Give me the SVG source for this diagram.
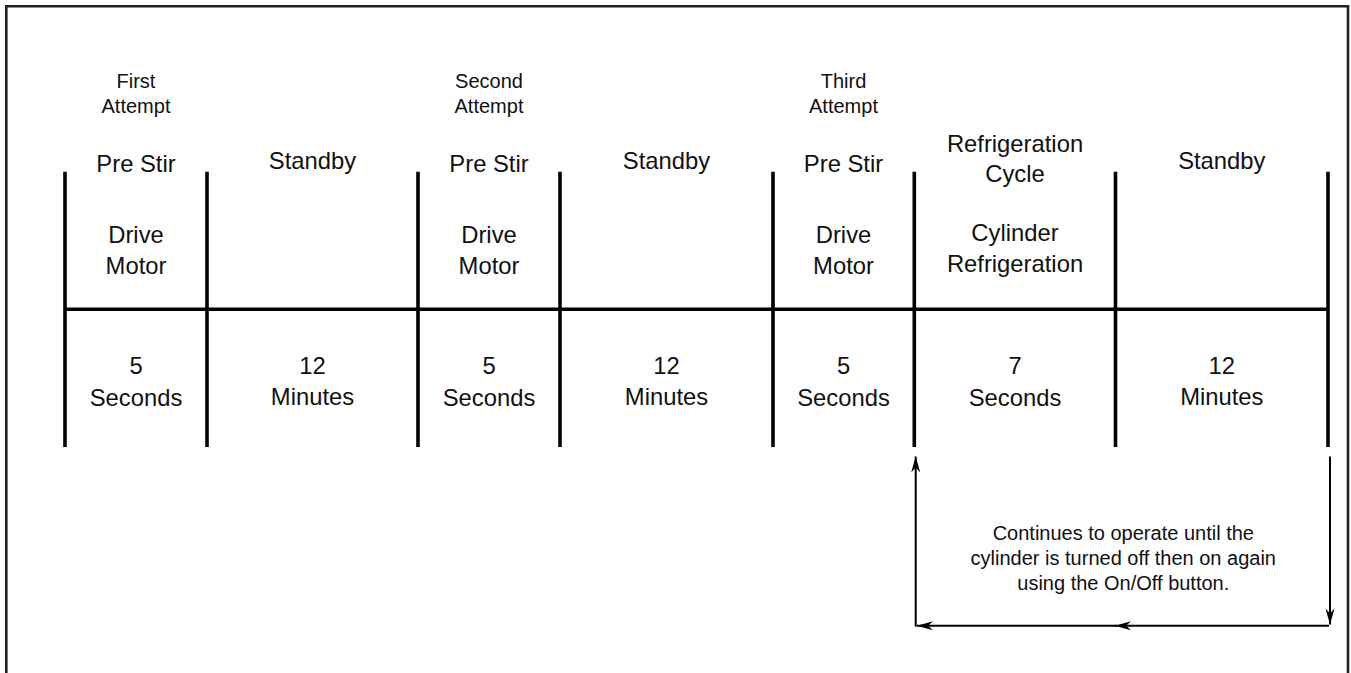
<svg xmlns="http://www.w3.org/2000/svg" width="1351" height="673" viewBox="0 0 1351 673">
  <style>
    .big { font-family: "Liberation Sans", Arial, sans-serif; font-size: 23.8px; fill: #111; text-anchor: middle; }
    .small { font-family: "Liberation Sans", Arial, sans-serif; font-size: 20px; fill: #111; text-anchor: middle; }
    .bar { stroke: #000; stroke-width: 3.6; fill: none; }
    .conn { stroke: #000; stroke-width: 2; fill: none; }
    .frame { stroke: #231f20; stroke-width: 2.6; fill: none; }
  </style>
  <defs>
    <marker id="arr" markerUnits="userSpaceOnUse" viewBox="-17 -5 18 10" refX="0" refY="0" markerWidth="18" markerHeight="10" orient="auto">
      <path d="M0,0 L-16,-4.5 L-11,0 L-16,4.5 Z" fill="#000"/>
    </marker>
  </defs>
  <rect x="0" y="0" width="1351" height="673" fill="#fff"/>
  <path class="frame" d="M6.3,673 V6.3 H1348 V673"/>

  <g id="timeline">
    <line class="bar" x1="65" y1="309.3" x2="1328" y2="309.3"/>
    <line class="bar" x1="65" y1="171.7" x2="65" y2="447"/>
    <line class="bar" x1="207" y1="171.7" x2="207" y2="447"/>
    <line class="bar" x1="418" y1="171.7" x2="418" y2="447"/>
    <line class="bar" x1="560" y1="171.7" x2="560" y2="447"/>
    <line class="bar" x1="773" y1="171.7" x2="773" y2="447"/>
    <line class="bar" x1="914.3" y1="171.7" x2="914.3" y2="447"/>
    <line class="bar" x1="1115.5" y1="171.7" x2="1115.5" y2="447"/>
    <line class="bar" x1="1328" y1="171.7" x2="1328" y2="447"/>
  </g>

  <g id="col1">
    <text class="small" x="136" y="88">First</text>
    <text class="small" x="136" y="113.3">Attempt</text>
    <text class="big" x="136" y="171.5">Pre Stir</text>
    <text class="big" x="136" y="242.7">Drive</text>
    <text class="big" x="136" y="274.3">Motor</text>
    <text class="big" x="136" y="374.3">5</text>
    <text class="big" x="136" y="405.8">Seconds</text>
  </g>
  <g id="col2">
    <text class="big" x="312.5" y="169.3">Standby</text>
    <text class="big" x="312.5" y="374.3">12</text>
    <text class="big" x="312.5" y="405.3">Minutes</text>
  </g>
  <g id="col3">
    <text class="small" x="489" y="88">Second</text>
    <text class="small" x="489" y="113.3">Attempt</text>
    <text class="big" x="489" y="171.5">Pre Stir</text>
    <text class="big" x="489" y="242.7">Drive</text>
    <text class="big" x="489" y="274.3">Motor</text>
    <text class="big" x="489" y="374.3">5</text>
    <text class="big" x="489" y="405.8">Seconds</text>
  </g>
  <g id="col4">
    <text class="big" x="666.5" y="169.3">Standby</text>
    <text class="big" x="666.5" y="374.3">12</text>
    <text class="big" x="666.5" y="405.3">Minutes</text>
  </g>
  <g id="col5">
    <text class="small" x="843.5" y="88">Third</text>
    <text class="small" x="843.5" y="113.3">Attempt</text>
    <text class="big" x="843.5" y="171.5">Pre Stir</text>
    <text class="big" x="843.5" y="242.7">Drive</text>
    <text class="big" x="843.5" y="274.3">Motor</text>
    <text class="big" x="843.5" y="374.3">5</text>
    <text class="big" x="843.5" y="405.8">Seconds</text>
  </g>
  <g id="col6">
    <text class="big" x="1015" y="151.7">Refrigeration</text>
    <text class="big" x="1015" y="181.7">Cycle</text>
    <text class="big" x="1015" y="240.7">Cylinder</text>
    <text class="big" x="1015" y="271.7">Refrigeration</text>
    <text class="big" x="1015" y="374.3">7</text>
    <text class="big" x="1015" y="405.8">Seconds</text>
  </g>
  <g id="col7">
    <text class="big" x="1221.8" y="169.3">Standby</text>
    <text class="big" x="1221.8" y="374.3">12</text>
    <text class="big" x="1221.8" y="405.3">Minutes</text>
  </g>

  <g id="connectors">
    <path class="conn" d="M1330,456.5 V624.5" marker-end="url(#arr)"/>
    <path class="conn" d="M1329,625.7 H1115" marker-end="url(#arr)"/>
    <path class="conn" d="M1116,625.7 H917" marker-end="url(#arr)"/>
    <path class="conn" d="M915.7,626.7 V456.5" marker-end="url(#arr)"/>
  </g>

  <g id="note">
    <text class="small" x="1123.3" y="540">Continues to operate until the</text>
    <text class="small" x="1123.3" y="565">cylinder is turned off then on again</text>
    <text class="small" x="1123.3" y="590">using the On/Off button.</text>
  </g>
</svg>
